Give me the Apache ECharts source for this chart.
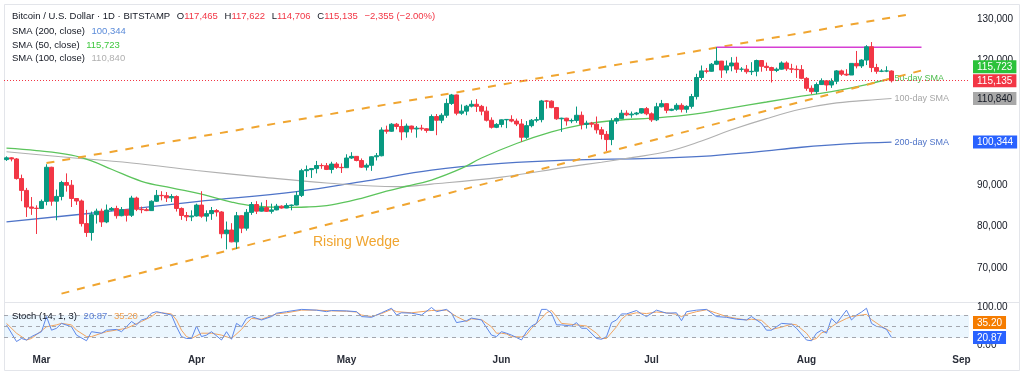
<!DOCTYPE html>
<html>
<head>
<meta charset="utf-8">
<title>BTC/USD 1D</title>
<script src="https://cdn.jsdelivr.net/npm/echarts@6/dist/echarts.min.js"></script>
<style>
  html, body { margin: 0; padding: 0; background: #fff; }
  #chart { width: 1024px; height: 376px; }
</style>
</head>
<body>
<div id="chart"></div>
<script>
// categories: one per day, Feb 22 2025 .. Sep 2 2025
var startDay = Date.UTC(2025, 1, 22);
var dayCount = 193;
var dates = [];
for (var i = 0; i < dayCount; i++) {
  dates.push(new Date(startDay + i * 86400000).toISOString().slice(0, 10));
}
var monthNames = ['Jan', 'Feb', 'Mar', 'Apr', 'May', 'Jun', 'Jul', 'Aug', 'Sep', 'Oct', 'Nov', 'Dec'];

// daily candles [open, close, low, high]
var ohlc = [
  // Feb
  [96125,96550,95800,96900],[96550,96280,95700,96700],[96280,91550,91300,96500],[91550,88700,86100,92500],
  [88700,84700,82300,89300],[84700,84400,82800,87100],[84400,84350,78200,85100],
  // Mar
  [84350,86050,84200,86500],[86050,94270,85100,95000],[94270,86100,85000,94400],[86100,87250,81500,88900],
  [87250,90600,86300,91000],[90600,89950,88400,92800],[89950,86750,84700,91200],[86750,86150,85200,86800],
  [86150,80700,80000,86500],[80700,78550,77500,84000],[78550,82850,76600,83600],[82850,83700,80700,84300],
  [83700,81100,79900,84300],[81100,83950,80800,85300],[83950,84350,83700,84700],[84350,82600,81900,85000],
  [82600,84050,82450,84700],[84050,82700,81200,84100],[82700,86850,82300,87400],[86850,84150,83700,87200],
  [84150,84050,83200,84800],[84050,83830,83700,84500],[83830,86080,83800,86300],[86080,87500,85900,88800],
  [87500,87420,86300,88500],[87420,86900,85900,88300],[86900,87230,85900,87800],[87230,84350,83600,87500],
  [84350,82650,81600,84600],[82650,82330,81300,83500],[82330,82550,81300,83900],
  // Apr
  [82550,85160,82400,85500],[85160,82500,82100,88500],[82500,83100,81200,83900],[83100,83850,81600,84700],
  [83850,83500,82400,84200],[83500,78250,77150,83700],[78250,79150,74500,81200],[79150,76300,76200,80800],
  [76300,82600,74600,83500],[82600,79600,78400,82700],[79600,83400,79000,84200],[83400,85300,82800,85900],
  [85300,83700,83000,86100],[83700,84550,83600,85800],[84550,83650,83500,86400],[83650,84000,83100,85500],
  [84000,84900,83900,85450],[84900,84450,84300,85100],[84450,85050,84400,85600],[85050,85170,83900,85300],
  [85170,87500,85100,88500],[87500,93450,87100,93900],[93450,93700,91900,94700],[93700,93950,91700,94000],
  [93950,94700,92800,95800],[94700,94650,93900,95200],[94650,93750,93600,95300],[93750,95050,92800,95600],
  [95050,94250,93900,95500],[94250,94170,92900,95200],
  // May
  [94170,96500,94100,97400],[96500,96900,96300,97900],[96900,95900,95700,96900],[95900,94300,94100,96400],
  [94300,94750,93500,95200],[94750,96800,93400,96900],[96800,97050,95900,97700],[97050,103250,96900,103900],
  [103250,102950,102350,104300],[102950,104650,102800,104900],[104650,104100,103400,104950],[104100,102800,100800,105800],
  [102800,104200,101400,104800],[104200,103500,102600,104300],[103500,103700,101400,104200],[103700,103550,103100,104500],
  [103550,103150,102600,103700],[103150,106500,103100,107000],[106500,105600,102000,107100],[105600,106800,104900,107300],
  [106800,109650,106200,110800],[109650,111700,109300,111950],[111700,107300,106800,111800],[107300,107800,106900,109400],
  [107800,109000,106800,109300],[109000,109450,108700,110400],[109450,108950,107600,110700],[108950,107800,106800,109300],
  [107800,105600,105300,108900],[105600,103900,103600,106300],[103900,104600,103700,104900],
  // Jun
  [104600,105700,103900,105800],[105700,105800,103700,105900],[105800,105400,105100,106800],[105400,104700,104200,106000],
  [104700,101500,100400,105900],[101500,104300,101100,105400],[104300,105600,103900,105900],[105600,105750,105100,106400],
  [105750,110250,105100,110500],[110250,110200,108400,110400],[110200,108650,108500,110400],[108650,105950,105700,108800],
  [105950,106100,102800,106200],[106100,105450,104300,106200],[105450,105550,104900,106000],[105550,106800,105000,108900],
  [106800,104600,103400,107700],[104600,104900,103600,105500],[104900,104650,103900,105200],[104650,103300,102400,106500],
  [103300,102200,101000,104000],[102200,100950,98200,103000],[100950,105400,99600,106100],[105400,106000,104700,106300],
  [106000,107300,105900,108100],[107300,106900,106600,108000],[106900,107100,106200,107700],[107100,107350,106800,107600],
  [107350,108400,107200,108500],[108400,107150,106800,108800],
  // Jul
  [107150,105700,105200,107500],[105700,108850,105400,109800],[108850,109600,108700,110500],[109600,108000,107300,109700],
  [108000,108250,107800,108400],[108250,109200,107900,109700],[109200,108250,107500,109700],[108250,108950,107400,109200],
  [108950,111300,108400,111950],[111300,115900,110600,116800],[115900,117500,115300,118800],[117500,117400,116900,118200],
  [117400,119100,117300,119400],[119100,119850,118900,123200],[119850,117700,115800,119900],[117700,118700,116900,120000],
  [118700,119400,117400,120800],[119400,117900,117000,120900],[117900,117900,117300,118400],[117900,117300,116800,118900],
  [117300,117400,116500,119600],[117400,120000,116200,120200],[120000,118600,117300,120100],[118600,118300,117500,119500],
  [118300,117600,114700,118500],[117600,117900,117200,118300],[117900,119400,117800,119800],[119400,118000,117500,119800],
  [118000,117900,117000,119200],[117900,117800,115800,118800],[117800,115700,115500,118900],
  // Aug
  [115700,113300,112700,116000],[113300,112500,111900,114000],[112500,114200,111900,114700],[114200,115100,114100,115700],
  [115100,114100,112700,115100],[114100,115000,113400,115700],[115000,117500,114300,117700],[117500,116700,116300,117800],
  [116700,116500,116300,117900],[116500,119300,116500,119300],[119300,118700,118100,122300],[118700,120100,118200,120300],
  [120100,123300,118900,123700],[123300,118300,117200,124450],[118300,117400,116800,119200],[117400,117450,117200,117900],
  [117450,117490,117200,118600],[117465,115135,114706,117622]
];

// moving averages: [day index, value]
var sma50 = [[0,98900],[6,98300],[13,97200],[17,95800],[21,93800],[27,90900],[33,89300],[39,87800],[45,85900],
  [49,85000],[55,84600],[60,84700],[65,85200],[71,86800],[76,88500],[80,89700],[85,91200],[91,94000],[95,96500],
  [102,100000],[109,102800],[115,104500],[122,105600],[129,106100],[135,106700],[139,107300],[145,108600],
  [152,110000],[159,111400],[165,112500],[172,114200],[177,115723]];
var sma100 = [[0,98000],[12,96700],[25,95300],[38,93500],[51,91900],[64,90500],[78,89600],[85,90200],[99,91900],
  [112,94300],[119,95500],[125,96600],[132,98000],[139,100600],[145,103300],[152,106000],[159,108300],
  [165,109600],[172,110400],[177,110840]];
var sma200 = [[0,81100],[20,83600],[38,86000],[58,88400],[72,91000],[85,93600],[99,95200],[112,96000],
  [129,96400],[139,96900],[150,98000],[159,99100],[168,99900],[177,100344]];

// drawn lines: [day index, price]
var upperWedge = [[8,95300],[181,131200]];
var lowerWedge = [[11,63830],[184,117900]];
var topLine = [[142,123200],[183,123200]];

// stochastic (14, 1, 3): [day index, value]
var stochK = [[0,54],[2,10],[3,18],[4,14],[5,23],[7,36],[8,76],[9,40],[10,45],[11,58],[13,49],[14,27],[16,12],
  [17,36],[19,32],[20,40],[22,42],[23,36],[24,49],[25,63],[26,54],[27,67],[28,71],[29,85],[30,89],[31,86],[33,80],
  [34,49],[35,23],[36,18],[37,18],[38,51],[39,23],[40,27],[41,36],[43,14],[44,36],[45,16],[46,58],[47,49],[48,71],
  [49,76],[51,67],[53,76],[54,85],[56,89],[59,95],[62,93],[64,89],[65,92],[68,91],[70,89],[71,76],[73,74],[75,86],
  [77,98],[78,80],[79,86],[81,85],[83,80],[85,100],[86,89],[88,95],[89,85],[90,60],[92,65],[93,72],[95,67],[97,27],
  [98,23],[99,36],[100,32],[101,27],[103,14],[104,36],[105,51],[106,58],[107,95],[108,95],[109,85],[110,54],[111,54],
  [113,51],[114,60],[115,45],[116,45],[118,18],[119,16],[120,23],[121,60],[122,67],[123,83],[124,83],[126,92],
  [127,83],[128,76],[130,93],[132,85],[134,86],[135,65],[136,89],[138,93],[140,95],[142,76],[144,74],[146,69],
  [148,67],[149,76],[151,58],[152,40],[153,40],[155,58],[157,56],[158,45],[160,14],[161,12],[162,32],[163,40],
  [164,32],[165,71],[166,58],[168,93],[169,67],[170,80],[171,88],[172,98],[173,58],[174,50],[175,48],[176,42],[177,20.87]];
var stochD = [[0,58],[2,32],[4,14],[5,18],[8,49],[10,54],[11,58],[13,54],[14,40],[16,23],[17,23],[19,32],[20,36],
  [24,45],[27,63],[29,76],[30,86],[31,86],[33,83],[34,67],[35,40],[36,23],[37,18],[38,25],[39,32],[41,32],[43,27],
  [45,18],[47,42],[48,58],[49,71],[51,69],[54,83],[56,86],[59,93],[62,93],[65,91],[68,90],[70,88],[71,80],[73,76],
  [75,84],[77,95],[78,89],[81,86],[85,92],[88,93],[90,76],[92,63],[93,70],[95,68],[97,49],[98,32],[99,32],[100,30],
  [101,23],[103,22],[104,28],[105,45],[106,58],[107,71],[108,86],[109,92],[110,76],[111,58],[114,54],[116,51],
  [118,32],[119,18],[120,18],[122,49],[123,69],[124,80],[126,86],[128,84],[130,88],[132,86],[134,82],[135,76],
  [136,82],[138,89],[140,94],[142,85],[144,76],[146,71],[148,67],[149,69],[151,66],[152,54],[153,42],[155,48],
  [157,56],[158,54],[160,32],[161,14],[162,18],[163,33],[164,37],[165,49],[166,58],[168,71],[169,76],[171,80],
  [172,82],[173,68],[175,50],[177,35.2]];

var FONT = '"Liberation Sans", Arial, sans-serif';
var UP = '#089981', DOWN = '#f23645';
var C50 = '#5cc45c', C100 = '#b0b0b0', C200 = '#4f74c8', CK = '#5d87e8', CD = '#f2a460', WEDGE = '#f0a530';
var CLEAR = 'rgba(0,0,0,0)';

function pts(arr) {
  return arr.map(function (p) { return [dates[p[0]], p[1]]; });
}
function fmt(v) { return v.toLocaleString('en-US'); }
function lastOf(arr) { return arr[arr.length - 1][1]; }

var last = ohlc[ohlc.length - 1];
var prevClose = ohlc[ohlc.length - 2][1];
var change = last[1] - prevClose;
var changePct = change / prevClose * 100;
var minus = function (s) { return s.replace('-', '\u2212'); };

// values whose price tags hide the axis label underneath
var tagged = [lastOf(sma100), lastOf(sma200)];

// price tag on the right side; lift moves the box up (px)
function tag(text, bg, fg, lift) {
  var r = { v: { backgroundColor: bg, color: fg, fontSize: 10, fontFamily: FONT, padding: [2, 4, 1, 4] } };
  var f = '{v|' + text + '}';
  if (lift) {
    r.s = { height: lift * 2, fontSize: 1 };
    f += '\n{s| }';
  }
  return { show: true, position: 'end', distance: 4, formatter: f, rich: r };
}
function tagLine(value, label) {
  return { silent: true, symbol: 'none', animation: false,
    lineStyle: { color: CLEAR, width: 1 }, label: label, data: [{ yAxis: value }] };
}

var chart = echarts.init(document.getElementById('chart'));

var option = {
  animation: false,
  backgroundColor: '#ffffff',
  grid: [
    { left: 4, right: 55, top: 10.7, height: 298.8, outerBoundsMode: 'none' },
    { left: 4, right: 55, top: 307.5, height: 37.8, outerBoundsMode: 'none' }
  ],
  xAxis: [
    { type: 'category', gridIndex: 0, data: dates, boundaryGap: true,
      axisLine: { show: false }, axisTick: { show: false }, axisLabel: { show: false }, splitLine: { show: false } },
    { type: 'category', gridIndex: 1, data: dates, boundaryGap: true,
      axisLine: { show: false }, axisTick: { show: false }, splitLine: { show: false },
      axisLabel: {
        margin: 10, fontSize: 10, fontWeight: 'bold', color: '#2a2e39', fontFamily: FONT,
        interval: function (idx, val) { return val.slice(8) === '01'; },
        formatter: function (val) { return monthNames[+val.slice(5, 7) - 1]; }
      } }
  ],
  yAxis: [
    { type: 'value', gridIndex: 0, position: 'right', min: 60000, max: 132000, interval: 10000,
      axisLine: { show: false }, axisTick: { show: false }, splitLine: { show: false },
      axisLabel: { margin: 8, fontSize: 10, color: '#131722', fontFamily: FONT,
        formatter: function (v) {
          if (v % 10000 || v === 60000) return '';
          for (var k = 0; k < tagged.length; k++) {
            if (Math.abs(v - tagged[k]) < 3000) return '';
          }
          return fmt(v);
        } } },
    { type: 'value', gridIndex: 1, position: 'right', min: 0, max: 100, interval: 100,
      axisLine: { show: false }, axisTick: { show: false }, splitLine: { show: false },
      axisLabel: { margin: 8, fontSize: 10, color: '#131722', fontFamily: FONT,
        formatter: function (v) { return v.toFixed(2); } } }
  ],
  series: [
    { name: 'SMA 200', type: 'line', xAxisIndex: 0, yAxisIndex: 0, data: pts(sma200), smooth: 0.4,
      showSymbol: false, silent: true, z: 3, lineStyle: { color: C200, width: 1.3 },
      endLabel: { show: true, formatter: '200-day SMA', color: C200, fontSize: 9, fontFamily: FONT, distance: 3 },
      markLine: tagLine(lastOf(sma200), tag(fmt(lastOf(sma200)), '#2962ff', '#fff')) },
    { name: 'SMA 100', type: 'line', xAxisIndex: 0, yAxisIndex: 0, data: pts(sma100), smooth: 0.4,
      showSymbol: false, silent: true, z: 3, lineStyle: { color: C100, width: 1.1 },
      endLabel: { show: true, formatter: '100-day SMA', color: '#a6a6a6', fontSize: 9, fontFamily: FONT, distance: 3 },
      markLine: tagLine(lastOf(sma100), tag(fmt(lastOf(sma100)), '#a8a8a8', '#131722')) },
    { name: 'SMA 50', type: 'line', xAxisIndex: 0, yAxisIndex: 0, data: pts(sma50), smooth: 0.4,
      showSymbol: false, silent: true, z: 3, lineStyle: { color: C50, width: 1.3 },
      endLabel: { show: true, formatter: '50-day SMA', color: '#4cbc4c', fontSize: 9, fontFamily: FONT, distance: 3 },
      markLine: tagLine(lastOf(sma50), tag(fmt(lastOf(sma50)), '#2bc23a', '#fff', 11.5)) },
    { name: 'upper', type: 'line', xAxisIndex: 0, yAxisIndex: 0, data: pts(upperWedge), showSymbol: false,
      silent: true, z: 4, lineStyle: { color: WEDGE, width: 2, type: [8, 8] } },
    { name: 'lower', type: 'line', xAxisIndex: 0, yAxisIndex: 0, data: pts(lowerWedge), showSymbol: false,
      silent: true, z: 4, lineStyle: { color: WEDGE, width: 2, type: [8, 8] } },
    { name: 'top', type: 'line', xAxisIndex: 0, yAxisIndex: 0, data: pts(topLine), showSymbol: false,
      silent: true, z: 4, lineStyle: { color: '#d63fd3', width: 1.6 } },
    { name: 'BTCUSD', type: 'candlestick', xAxisIndex: 0, yAxisIndex: 0, data: ohlc, barWidth: 3.6, z: 5,
      silent: true,
      itemStyle: { color: UP, color0: DOWN, borderColor: UP, borderColor0: DOWN, borderWidth: 1 },
      markLine: { silent: true, symbol: 'none', animation: false,
        lineStyle: { color: DOWN, type: [1, 2], width: 1 },
        label: tag(fmt(last[1]), DOWN, '#fff'),
        data: [{ yAxis: last[1] }] } },
    { name: '%K', type: 'line', xAxisIndex: 1, yAxisIndex: 1, data: pts(stochK), showSymbol: false,
      silent: true, z: 4, lineStyle: { color: CK, width: 1 },
      markArea: { silent: true, itemStyle: { color: 'rgba(33,150,243,0.09)' },
        data: [[{ yAxis: 20 }, { yAxis: 80 }]] },
      markLine: { silent: true, symbol: 'none', animation: false,
        lineStyle: { color: '#a3a6ae', type: [4, 4], width: 1 },
        label: { show: false },
        data: [{ yAxis: 80 }, { yAxis: 50 }, { yAxis: 20 }] } },
    { name: '%K tag', type: 'line', xAxisIndex: 1, yAxisIndex: 1, data: [], silent: true,
      markLine: tagLine(lastOf(stochK), tag(lastOf(stochK).toFixed(2), '#2962ff', '#fff')) },
    { name: '%D', type: 'line', xAxisIndex: 1, yAxisIndex: 1, data: pts(stochD), showSymbol: false,
      silent: true, z: 3, lineStyle: { color: CD, width: 1 },
      markLine: tagLine(lastOf(stochD), tag(lastOf(stochD).toFixed(2), '#f57c00', '#fff', 9.5)) }
  ],
  graphic: [
    { type: 'rect', z: 0, silent: true, shape: { x: 4.5, y: 4.5, width: 1015, height: 366 },
      style: { fill: 'none', stroke: '#e3e5ea', lineWidth: 1 } },
    { type: 'line', z: 0, silent: true, shape: { x1: 4.5, y1: 302.5, x2: 1019.5, y2: 302.5 },
      style: { stroke: '#e3e5ea', lineWidth: 1 } },
    { type: 'text', z: 100, left: 12, top: 10.5, silent: true, style: {
      text: '{t|Bitcoin / U.S. Dollar \u00b7 1D \u00b7 BITSTAMP}  {t|O}{r|' + fmt(last[0]) + '}  {t|H}{r|' + fmt(last[3]) +
        '}  {t|L}{r|' + fmt(last[2]) + '}  {t|C}{r|' + fmt(last[1]) + '}  {r|' + minus(fmt(change)) + ' (' + minus(changePct.toFixed(2)) + '%)}',
      rich: { t: { fill: '#131722', fontSize: 9.5, fontFamily: FONT }, r: { fill: '#f23645', fontSize: 9.5, fontFamily: FONT } } } },
    { type: 'text', z: 100, left: 12, top: 25, silent: true, style: {
      text: '{t|SMA (200, close)}  {v|' + fmt(lastOf(sma200)) + '}',
      rich: { t: { fill: '#131722', fontSize: 9.5, fontFamily: FONT }, v: { fill: '#5b8bd9', fontSize: 9.5, fontFamily: FONT } } } },
    { type: 'text', z: 100, left: 12, top: 39, silent: true, style: {
      text: '{t|SMA (50, close)}  {v|' + fmt(lastOf(sma50)) + '}',
      rich: { t: { fill: '#131722', fontSize: 9.5, fontFamily: FONT }, v: { fill: '#3ec73e', fontSize: 9.5, fontFamily: FONT } } } },
    { type: 'text', z: 100, left: 12, top: 52.5, silent: true, style: {
      text: '{t|SMA (100, close)}  {v|' + fmt(lastOf(sma100)) + '}',
      rich: { t: { fill: '#131722', fontSize: 9.5, fontFamily: FONT }, v: { fill: '#b0b0b0', fontSize: 9.5, fontFamily: FONT } } } },
    { type: 'text', z: 100, left: 12, top: 310, silent: true, style: {
      text: '{t|Stoch (14, 1, 3)}  {k|' + lastOf(stochK).toFixed(2) + '}  {d|' + lastOf(stochD).toFixed(2) + '}',
      rich: { t: { fill: '#131722', fontSize: 9.5, fontFamily: FONT }, k: { fill: '#5b7fd6', fontSize: 9.5, fontFamily: FONT },
        d: { fill: '#f0a050', fontSize: 9.5, fontFamily: FONT } } } },
    { type: 'text', z: 100, left: 313, top: 235, silent: true, style: {
      text: 'Rising Wedge', fill: WEDGE, fontSize: 14, fontFamily: FONT } }
  ]
};

chart.setOption(option);
</script>
</body>
</html>
